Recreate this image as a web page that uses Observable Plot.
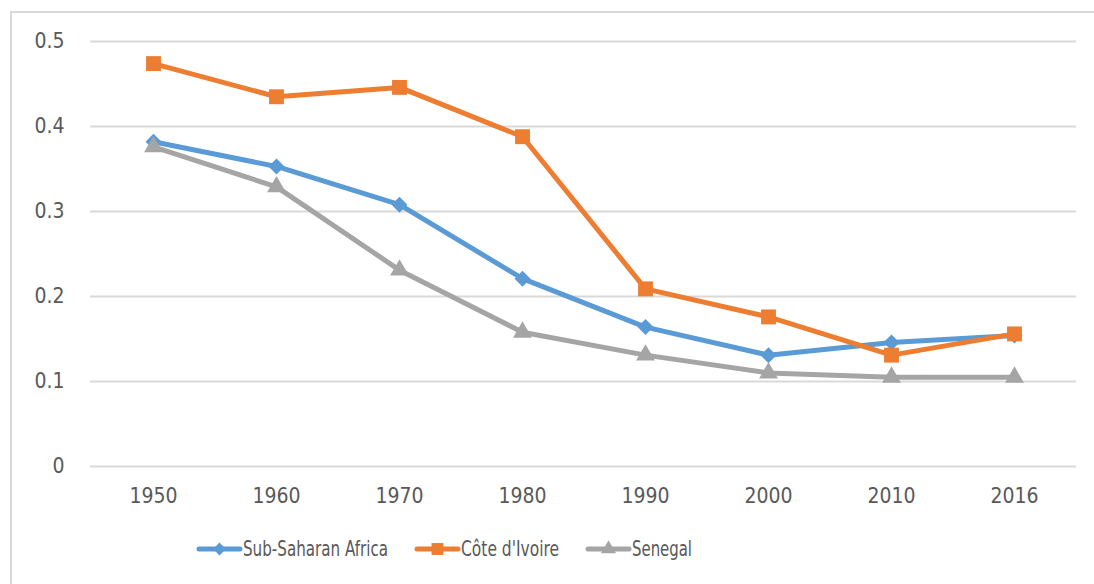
<!DOCTYPE html>
<html><head><meta charset="utf-8">
<script src="https://cdn.jsdelivr.net/npm/d3@7"></script>
<script src="https://cdn.jsdelivr.net/npm/@observablehq/plot@0.6"></script>
<style>
body{margin:0;background:#fff;}
#wrap{position:relative;width:1094px;height:584px;overflow:hidden;font-family:"DejaVu Sans Condensed","Open Sans",sans-serif;color:#595959;}
#frame{position:absolute;left:10px;top:11px;width:1200px;height:700px;border-top:2px solid #d9d9d9;border-left:2px solid #d9d9d9;box-sizing:border-box;}
#chart{position:absolute;left:0;top:0;}
#legend{position:absolute;left:0;top:510px;}
</style>
</head><body>
<div id="wrap"><div id="frame"></div><div id="chart"></div><div id="legend"></div></div>
<script>
const years = ["1950","1960","1970","1980","1990","2000","2010","2016"];
const subSaharanAfrica = [0.382,0.353,0.308,0.221,0.164,0.131,0.146,0.154];
const coteDIvoire = [0.474,0.435,0.446,0.388,0.209,0.176,0.131,0.156];
const senegal = [0.376,0.329,0.231,0.158,0.131,0.110,0.105,0.105];
const seriesNames = ["Sub-Saharan Africa","Côte d'Ivoire","Senegal"];
const yTicks = [0,0.1,0.2,0.3,0.4,0.5];

const colors = ["#5b9bd5","#ed7d31","#a5a5a5"];
const symbols = ["diamond2","square","triangle"];
const radii = [7.2,8.4,7.0];
const allValues = [subSaharanAfrica, coteDIvoire, senegal];

const marks = [Plot.ruleY(yTicks,{stroke:"#d9d9d9",strokeWidth:2})];
allValues.forEach((vals,k)=>{
  const data = years.map((y,i)=>({year:y,value:vals[i],name:seriesNames[k]}));
  marks.push(Plot.line(data,{x:"year",y:"value",stroke:colors[k],strokeWidth:5,strokeLinejoin:"round",strokeLinecap:"round"}));
  marks.push(Plot.dot(data,{x:"year",y:"value",symbol:symbols[k],r:radii[k],fill:colors[k],stroke:null}));
});

const chart = Plot.plot({
  width:1094,height:510,
  marginLeft:90,marginRight:18,marginTop:41,marginBottom:44,
  style:{fontSize:"21px",color:"#595959",background:"transparent",fontFamily:"'DejaVu Sans Condensed','Open Sans',sans-serif"},
  x:{type:"point",domain:years,padding:0.5,align:0.5,label:null,tickSize:0,tickPadding:22},
  y:{domain:[0,0.5],ticks:yTicks,tickFormat:d=>d===0?"0":d.toFixed(1),label:null,tickSize:0,tickPadding:26},
  marks
});
document.getElementById("chart").appendChild(chart);

// legend
const textWidths = [145,98,60];
const swatchW = 45, textGap = 1, itemGap = 27;
const lsvg = d3.select("#legend").append("svg").attr("width",1094).attr("height",74);
const symMap = {diamond2:d3.symbolDiamond2,square:d3.symbolSquare,triangle:d3.symbolTriangle};
let x0 = 197; const cy = 39;
seriesNames.forEach((n,k)=>{
  lsvg.append("line").attr("x1",x0+2).attr("x2",x0+swatchW-2).attr("y1",cy).attr("y2",cy)
    .attr("stroke",colors[k]).attr("stroke-width",5).attr("stroke-linecap","round");
  const sz = Math.PI*(radii[k]*0.8)**2;
  lsvg.append("path").attr("d",d3.symbol(symMap[symbols[k]],sz)()).attr("transform",`translate(${x0+swatchW/2},${cy})`).attr("fill",colors[k]);
  lsvg.append("text").attr("x",x0+swatchW+textGap).attr("y",cy).attr("dy","0.35em")
    .attr("font-size",21).attr("fill","#595959").attr("textLength",textWidths[k]).attr("lengthAdjust","spacingAndGlyphs")
    .style("font-family","'DejaVu Sans Condensed','Open Sans',sans-serif").text(n);
  x0 += swatchW + textGap + textWidths[k] + itemGap;
});
</script>
</body></html>
